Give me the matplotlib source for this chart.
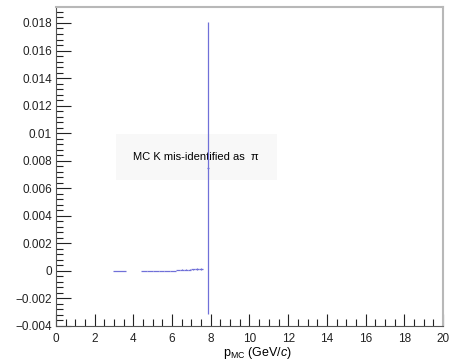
import matplotlib
matplotlib.use('Agg')
import numpy as np
from matplotlib import pyplot as plt
from matplotlib.ticker import MultipleLocator, FuncFormatter

# bin centers, half widths, contents and errors
p_mc = [3.3, 4.55, 4.85, 5.15, 5.45, 5.75, 6.05,
        6.3, 6.5, 6.7, 6.9, 7.1, 7.3, 7.5, 7.85]
half_w = [0.33, 0.15, 0.15, 0.15, 0.15, 0.15, 0.15,
          0.1, 0.1, 0.1, 0.1, 0.1, 0.1, 0.1, 0.05]
frac = [0.0, 0.0, 0.0, 0.0, 0.0, 0.0, 0.0,
        0.00006, 0.00008, 0.00009, 0.0001, 0.00011, 0.00012, 0.00014, 0.0075]
frac_err = [0.0, 0.0, 0.0, 0.0, 0.0, 0.0, 0.0,
            0.00003, 0.00004, 0.00004, 0.00005, 0.00005, 0.00006, 0.0001, 0.0106]

label = 'MC K mis-identified as  \u03c0'

plt.rcParams['font.family'] = ['Liberation Sans', 'DejaVu Sans']
plt.rcParams['mathtext.fontset'] = 'custom'
plt.rcParams['mathtext.rm'] = 'Liberation Sans'
plt.rcParams['mathtext.it'] = 'Liberation Sans:italic'


def fmt(v, pos):
    s = '%g' % round(v, 6)
    if s == '-0':
        s = '0'
    return s.replace('-', '\u2212')


def main():
    fig = plt.figure(figsize=(4.49, 3.61), dpi=100)
    ax = fig.add_axes([0.1247, 0.097, 0.8619, 0.8836])

    ax.errorbar(p_mc, frac, xerr=half_w, yerr=frac_err, fmt='none',
                ecolor='#7070d8', elinewidth=0.9, capsize=0, zorder=3)

    ax.set_xlim(0, 20)
    ax.set_ylim(-0.004, 0.01916)

    ax.xaxis.set_major_locator(MultipleLocator(2))
    ax.xaxis.set_minor_locator(MultipleLocator(0.5))
    ax.yaxis.set_major_locator(MultipleLocator(0.002))
    ax.yaxis.set_minor_locator(MultipleLocator(0.0004))
    ax.yaxis.set_major_formatter(FuncFormatter(fmt))
    ax.xaxis.set_major_formatter(FuncFormatter(fmt))

    ax.tick_params(axis='both', which='both', direction='in',
                   top=False, right=False, labelsize=8.5, colors='#222222')
    ax.tick_params(axis='y', which='major', length=11, width=0.8, pad=3)
    ax.tick_params(axis='y', which='minor', length=5, width=0.8)
    ax.tick_params(axis='x', which='major', length=9, width=0.8, pad=5)
    ax.tick_params(axis='x', which='minor', length=5, width=0.8)

    for s in ['top', 'right']:
        ax.spines[s].set_color('#b8b8b8')
        ax.spines[s].set_linewidth(1.5)
    for s in ['left', 'bottom']:
        ax.spines[s].set_color('#555555')
        ax.spines[s].set_linewidth(0.8)

    ax.set_xlabel(r'p$_{\mathrm{MC}}$ (GeV/$c$)', fontsize=9)
    ax.xaxis.set_label_coords(0.52, -0.06)

    ax.text(0.2, 0.53, label, transform=ax.transAxes, fontsize=8,
            ha='left', va='center', zorder=1,
            bbox=dict(boxstyle='square,pad=1.6', fc='#f8f8f8', ec='none'))

    fig.savefig('out.png', dpi=100)


if __name__ == '__main__':
    main()
